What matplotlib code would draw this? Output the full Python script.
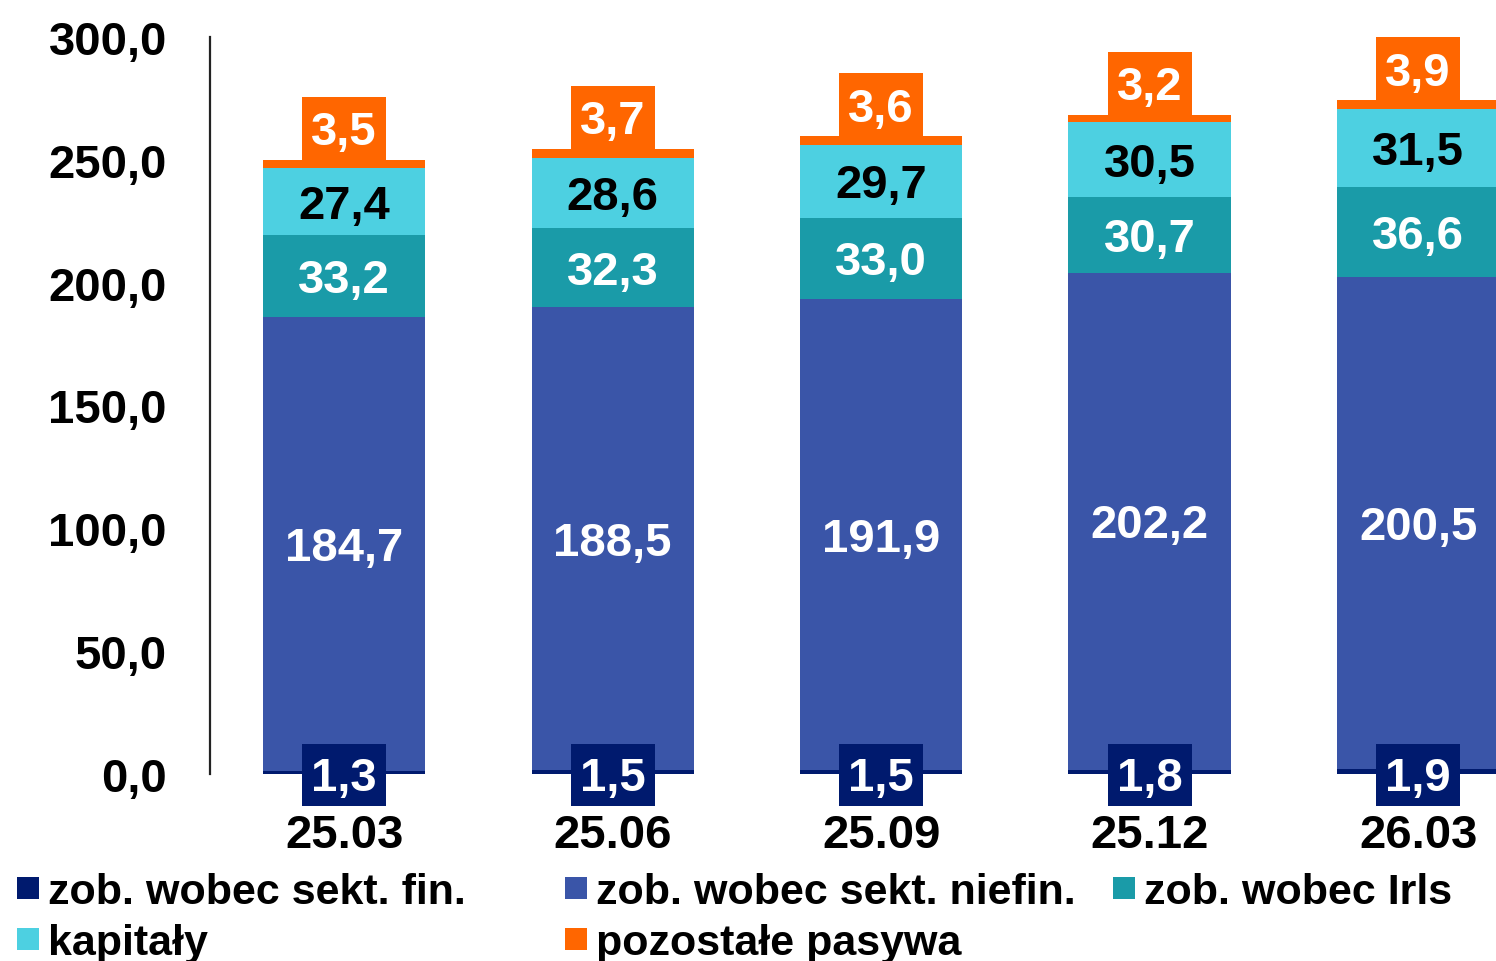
import matplotlib

matplotlib.use("Agg")
import matplotlib.pyplot as plt
import numpy as np
from matplotlib.patches import Rectangle
from matplotlib.transforms import offset_copy

plt.rcParams["font.family"] = ["Liberation Sans", "DejaVu Sans"]
plt.rcParams["font.weight"] = "bold"

# data
periods = ["25.03", "25.06", "25.09", "25.12", "26.03"]
sekt_fin = [1.3, 1.5, 1.5, 1.8, 1.9]
sekt_niefin = [184.7, 188.5, 191.9, 202.2, 200.5]
irls = [33.2, 32.3, 33.0, 30.7, 36.6]
kapitaly = [27.4, 28.6, 29.7, 30.5, 31.5]
pozostale = [3.5, 3.7, 3.6, 3.2, 3.9]

series_names = [
    "zob. wobec sekt. fin.",
    "zob. wobec sekt. niefin.",
    "zob. wobec Irls",
    "kapitały",
    "pozostałe pasywa",
]
y_ticks = [0, 50, 100, 150, 200, 250, 300]

C_FIN = "#001a6e"
C_NIEFIN = "#3a55a8"
C_IRLS = "#1a9ba8"
C_KAP = "#4dd0e1"
C_POZ = "#ff6600"

W, H = 1496, 962
FS = 34


def fmt(v):
    return f"{v:.1f}".replace(".", ",")


def px(x, y):
    # pixel coords (from top-left) -> figure fraction
    return x / W, 1 - y / H


fig = plt.figure(figsize=(W / 100, H / 100), dpi=100)
ax = fig.add_axes([210 / W, 187 / H, 1 - 210 / W, 737 / H])
# matplotlib centres on the full line box; nudge labels down a little
lbl_tr = offset_copy(ax.transData, fig=fig, x=0, y=-4, units="dots")

x = np.arange(len(periods))
bw = 0.605
layers = [
    (sekt_fin, C_FIN),
    (sekt_niefin, C_NIEFIN),
    (irls, C_IRLS),
    (kapitaly, C_KAP),
    (pozostale, C_POZ),
]
bottom = np.zeros(len(periods))
bottoms = []
for vals, col in layers:
    vals = np.array(vals)
    bottoms.append(bottom.copy())
    ax.bar(x, vals, bw, bottom=bottom, color=col, edgecolor="none", zorder=2)
    bottom = bottom + vals
totals = bottom

# labels inside the segments
inner = [(1, "white"), (2, "white"), (3, "black")]
for idx, tc in inner:
    vals = layers[idx][0]
    for i in range(len(periods)):
        yc = bottoms[idx][i] + vals[i] / 2
        ax.text(x[i], yc, fmt(vals[i]), ha="center", va="center", transform=lbl_tr,
                color=tc, fontsize=FS, fontweight="bold", zorder=4)

# boxed labels: fin at the base, pozostałe on top
box_w = 0.313
box_h = 25.5
ax.bar(x, box_h, box_w, bottom=-13.2, color=C_FIN, zorder=3, clip_on=False)
ax.bar(x, box_h, box_w, bottom=totals, color=C_POZ, zorder=3, clip_on=False)
for i in range(len(periods)):
    ax.text(x[i], 0.2, fmt(sekt_fin[i]), ha="center", va="center", transform=lbl_tr,
            color="white", fontsize=FS, fontweight="bold", zorder=4, clip_on=False)
    ax.text(x[i], totals[i] + box_h / 2, fmt(pozostale[i]), ha="center", va="center",
            transform=lbl_tr, color="white", fontsize=FS, fontweight="bold",
            zorder=4, clip_on=False)

ax.set_xlim(-0.5, 4.29)
ax.set_ylim(0, 300)
ax.set_yticks(y_ticks)
ax.set_yticklabels([fmt(v) for v in y_ticks], fontsize=FS, fontweight="bold")
ax.set_xticks(x)
ax.set_xticklabels(periods, fontsize=FS, fontweight="bold")
ax.tick_params(axis="y", length=0, pad=31)
ax.tick_params(axis="x", length=0, pad=28)
for s in ["top", "right", "bottom"]:
    ax.spines[s].set_visible(False)
ax.spines["left"].set_linewidth(1.6)
ax.spines["left"].set_color("#222222")
ax.patch.set_visible(False)

# legend laid out by hand to match the reference spacing
legend_pos = [(17, 889), (565, 889), (1113, 889), (17, 940), (565, 940)]
legend_cols = [C_FIN, C_NIEFIN, C_IRLS, C_KAP, C_POZ]
for name, col, (lx, ly) in zip(series_names, legend_cols, legend_pos):
    rx, ry = px(lx, ly + 11)
    fig.add_artist(Rectangle((rx, ry), 22 / W, 22 / H, transform=fig.transFigure,
                             facecolor=col, edgecolor="none"))
    tx, ty = px(lx + 31, ly + 4)
    fig.text(tx, ty, name, ha="left", va="center", fontsize=31, fontweight="bold")

fig.savefig("out.png", dpi=100)
plt.close(fig)
